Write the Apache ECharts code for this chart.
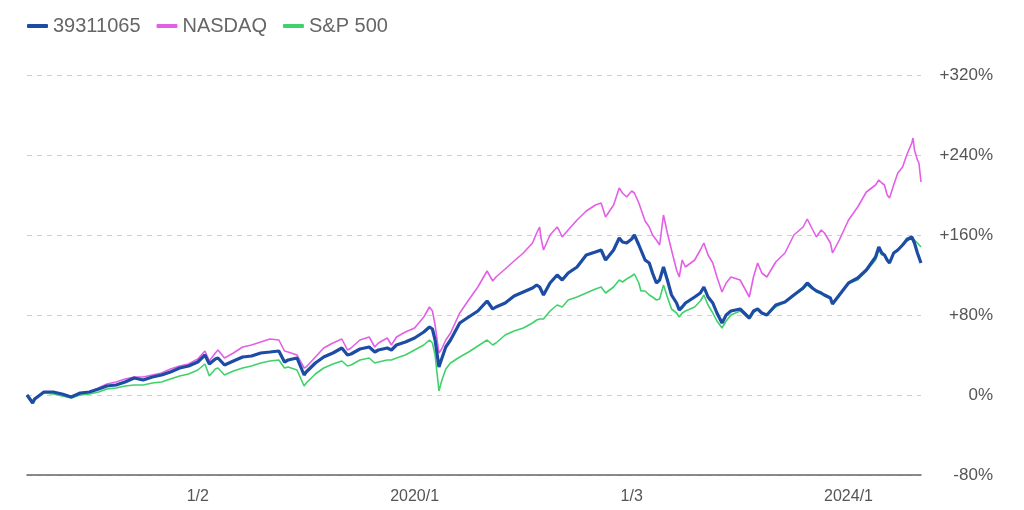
<!DOCTYPE html>
<html>
<head>
<meta charset="utf-8">
<script src="https://cdn.jsdelivr.net/npm/echarts@6/dist/echarts.min.js"></script>
<style>
html,body{margin:0;padding:0;background:#fff;}
#chart{width:1024px;height:510px;}
</style>
</head>
<body>
<div id="chart"></div>
<script>
const dates = [
'2016-06-05','2016-06-24','2016-07-01','2016-08-01','2016-09-01','2016-10-01','2016-11-01','2016-12-01',
'2017-01-01','2017-02-01','2017-03-01','2017-04-01','2017-05-01','2017-06-01','2017-07-01','2017-08-01',
'2017-09-01','2017-10-01','2017-11-01','2017-12-01','2018-01-01','2018-01-25','2018-02-09','2018-03-01',
'2018-03-10','2018-04-01','2018-05-01','2018-06-01','2018-07-01','2018-08-01','2018-09-01','2018-10-01',
'2018-10-20','2018-11-01','2018-12-01','2018-12-25','2019-01-01','2019-02-01','2019-03-01','2019-04-01',
'2019-05-01','2019-05-20','2019-06-01','2019-07-01','2019-08-01','2019-08-20','2019-09-01','2019-10-01',
'2019-10-15','2019-11-01','2019-12-01','2020-01-01','2020-02-01','2020-02-20','2020-03-01','2020-03-10',
'2020-03-23','2020-04-01','2020-04-15','2020-05-01','2020-06-01','2020-07-01','2020-08-01','2020-09-01',
'2020-09-20','2020-10-01','2020-11-01','2020-12-01','2021-01-01','2021-02-01','2021-02-15','2021-02-25',
'2021-03-01','2021-03-10','2021-04-01','2021-04-25','2021-05-01','2021-05-12','2021-06-01','2021-07-01',
'2021-08-01','2021-09-01','2021-09-20','2021-10-05','2021-11-01','2021-11-20','2021-12-01','2021-12-15',
'2022-01-01','2022-01-10','2022-01-25','2022-02-01','2022-02-15','2022-03-01','2022-03-12','2022-03-25',
'2022-04-05','2022-04-18','2022-05-01','2022-05-15','2022-06-01','2022-06-10','2022-06-20','2022-07-01',
'2022-08-01','2022-08-20','2022-09-01','2022-09-15','2022-10-01','2022-10-15','2022-11-01','2022-11-15',
'2022-12-01','2023-01-01','2023-02-01','2023-02-15','2023-03-01','2023-03-15','2023-04-01','2023-05-01',
'2023-06-01','2023-07-01','2023-08-01','2023-08-15','2023-09-01','2023-09-15','2023-10-01','2023-10-12',
'2023-11-01','2023-11-08','2023-12-01','2024-01-01','2024-02-01','2024-03-01','2024-04-01','2024-04-12',
'2024-04-22','2024-05-01','2024-05-10','2024-05-18','2024-06-01','2024-06-15','2024-07-01','2024-07-15',
'2024-08-01','2024-08-05','2024-08-10','2024-08-20','2024-08-25','2024-09-01'
];
const fund = [
0,-8,-4,3,3,1,-2,2,
3,6,9,10,13,17,15,18,
20,23,27,29,33,40,31,36,
37,30,34,38,39,42,43,44,
33,35,37,20,23,32,38,42,
47,40,41,46,48,43,45,47,
45,50,53,57,63,68,66,55,
28,36,48,55,72,78,84,94,
86,88,92,99,103,107,110,108,
108,100,112,120,122,115,122,128,
140,143,145,135,145,157,153,152,
156,160,150,145,135,132,122,112,
115,128,115,100,92,85,88,92,
98,102,108,98,92,82,72,80,
84,86,77,84,86,82,80,90,
93,100,107,112,107,104,102,100,
97,91,100,112,117,125,138,148,
142,140,135,132,142,145,150,155,
158,158,152,142,143,132
];
const nasdaq = [
0,-7,-4,3,3,1,-2,1,
3,7,11,13,16,18,18,20,
22,26,29,31,36,44,34,42,
45,37,42,48,50,53,56,55,
44,43,40,27,28,38,47,52,
56,45,47,55,58,48,52,57,
50,58,63,67,78,88,84,70,
42,46,55,62,82,95,108,124,
114,118,126,134,142,152,162,168,
158,145,160,168,165,158,165,175,
184,190,192,178,190,207,202,198,
204,202,192,186,174,168,160,155,
150,180,162,145,125,118,135,128,
135,145,152,140,132,118,103,112,
118,115,98,118,132,122,118,133,
142,160,168,176,166,158,165,162,
152,142,155,175,188,203,210,215,
212,210,200,197,210,222,228,240,
252,257,245,235,232,213
];
const sp500 = [
0,-6,-3,2,1,-1,-3,0,
1,3,6,7,9,10,10,12,
13,16,19,21,25,31,19,26,
27,20,24,27,29,32,34,35,
27,28,25,9,12,21,27,31,
34,29,30,35,37,32,33,35,
35,37,40,45,50,55,52,40,
4,14,26,32,38,43,49,55,
50,52,60,64,67,72,75,76,
77,76,84,90,91,88,95,98,
102,106,108,102,108,115,113,116,
119,121,112,104,104,100,98,95,
96,110,98,86,82,78,82,84,
88,94,100,90,82,74,67,74,
80,84,76,82,86,82,80,88,
93,100,106,110,107,104,101,99,
97,92,100,112,115,124,135,145,
140,140,135,132,142,145,150,157,
158,158,155,152,153,148
];
const xTickDates = ['2018-01-01','2020-01-01','2022-01-01','2024-01-01'];
const xTickLabels = ['1/2','2020/1','1/3','2024/1'];
const yMin = -80, yMax = 320, yStep = 80;

function ts(s){ const p = s.split('-').map(Number); return Date.UTC(p[0], p[1]-1, p[2]); }
const tickTs = xTickDates.map(ts);
const pairs = arr => dates.map((d,i)=>[ts(d), arr[i]]);

const chart = echarts.init(document.getElementById('chart'), null, {renderer:'canvas'});
const FONT = '"Liberation Sans", Arial, sans-serif';
chart.setOption({
  animation:false,
  backgroundColor:'#fff',
  textStyle:{fontFamily:FONT},
  legend:{
    left:22, top:11, icon:'roundRect', itemWidth:21, itemHeight:4, itemGap:16,
    textStyle:{fontSize:20, color:'#666', fontFamily:FONT},
    data:['39311065','NASDAQ','S&P 500']
  },
  grid:{left:27, right:103, top:75, bottom:35},
  xAxis:{
    type:'value', min:ts(dates[0]), max:ts(dates[dates.length-1]),
    axisLine:{show:true, onZero:false, lineStyle:{color:'#666', width:1.5}},
    axisTick:{show:false},
    splitLine:{show:false},
    axisLabel:{
      customValues:tickTs, fontSize:16, color:'#555', margin:14, fontFamily:FONT,
      formatter:function(v){ const i = tickTs.indexOf(v); return i>=0 ? xTickLabels[i] : ''; }
    }
  },
  yAxis:{
    type:'value', position:'right', min:yMin, max:yMax, interval:yStep,
    axisLine:{show:false}, axisTick:{show:false},
    splitLine:{show:true, lineStyle:{color:'#cfcfcf', type:[5,5], width:1}},
    axisLabel:{
      align:'right', margin:72, fontSize:17, color:'#555', fontFamily:FONT,
      formatter:function(v){ return (v>0?'+':'')+v+'%'; }
    }
  },
  series:[
    {name:'NASDAQ', type:'line', data:pairs(nasdaq), showSymbol:false, symbol:'none',
     lineStyle:{color:'#e35fe6', width:1.6}, itemStyle:{color:'#e35fe6'}, z:2},
    {name:'S&P 500', type:'line', data:pairs(sp500), showSymbol:false, symbol:'none',
     lineStyle:{color:'#3fd26b', width:1.6}, itemStyle:{color:'#3fd26b'}, z:3},
    {name:'39311065', type:'line', data:pairs(fund), showSymbol:false, symbol:'none',
     lineStyle:{color:'#1d4ca5', width:3.2}, itemStyle:{color:'#1d4ca5'}, z:4}
  ]
});
</script>
</body>
</html>
